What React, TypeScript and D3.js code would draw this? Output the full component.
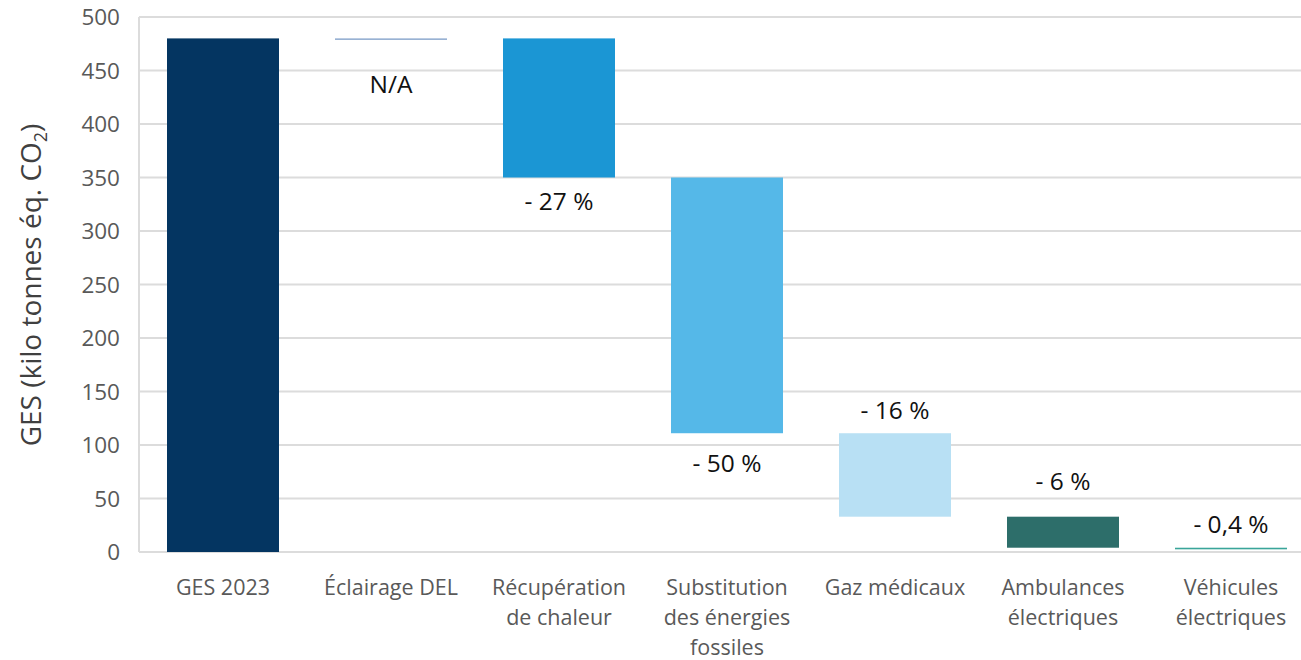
import React, { useEffect, useRef } from 'react';
import * as d3 from 'd3';

// Waterfall data (kilo tonnes éq. CO2)
const categories = [
  ['GES 2023'],
  ['Éclairage DEL'],
  ['Récupération', 'de chaleur'],
  ['Substitution', 'des énergies', 'fossiles'],
  ['Gaz médicaux'],
  ['Ambulances', 'électriques'],
  ['Véhicules', 'électriques'],
];
const barStart = [0, 480, 480, 350, 111, 33, 4];
const barEnd = [480, 480, 350, 111, 33, 4, 2.5];
const barColors = ['#043561', '#8eaacf', '#1b96d4', '#55b8e8', '#b8e0f4', '#2d6e6a', '#3aa59a'];
const deltaLabels = ['', 'N/A', '- 27 %', '- 50 %', '- 16 %', '- 6 %', '- 0,4 %'];
const labelAt = [0, 437, 328, 83, 133, 66, 26];
const yTicks = [0, 50, 100, 150, 200, 250, 300, 350, 400, 450, 500];

const W = 1301;
const H = 660;
const FONT = '"Open Sans", "Segoe UI", sans-serif';

const App = () => {
  const svgRef = useRef<SVGSVGElement>(null);

  useEffect(() => {
    const svg = d3.select(svgRef.current);
    svg.selectAll('*').remove();

    const x = d3.scaleBand<number>()
      .domain(d3.range(categories.length))
      .range([139, 1315])
      .paddingInner(1 / 3)
      .paddingOuter(1 / 6);

    const y = d3.scaleLinear().domain([0, 500]).range([552, 17]);

    // gridlines
    svg.append('g')
      .selectAll('line')
      .data(yTicks)
      .join('line')
      .attr('x1', 139)
      .attr('x2', W)
      .attr('y1', d => y(d))
      .attr('y2', d => y(d))
      .attr('stroke', '#dcdcdc')
      .attr('stroke-width', 2);

    // left axis line
    svg.append('line')
      .attr('x1', 139).attr('x2', 139)
      .attr('y1', y(500)).attr('y2', y(0))
      .attr('stroke', '#dcdcdc')
      .attr('stroke-width', 2);

    // tick labels
    svg.append('g')
      .selectAll('text')
      .data(yTicks)
      .join('text')
      .attr('x', 120)
      .attr('y', d => y(d))
      .attr('dy', '0.36em')
      .attr('text-anchor', 'end')
      .attr('font-family', FONT)
      .attr('font-size', 22.5)
      .attr('fill', '#595959')
      .text(d => d);

    // bars
    svg.append('g')
      .selectAll('rect')
      .data(categories.map((_, i) => i))
      .join('rect')
      .attr('x', i => x(i)!)
      .attr('width', x.bandwidth())
      .attr('y', i => Math.min(y(barStart[i]), y(barEnd[i])))
      .attr('height', i => Math.max(1.5, Math.abs(y(barStart[i]) - y(barEnd[i]))))
      .attr('fill', i => barColors[i]);

    // delta labels
    svg.append('g')
      .selectAll('text')
      .data(categories.map((_, i) => i).filter(i => deltaLabels[i]))
      .join('text')
      .attr('x', i => x(i)! + x.bandwidth() / 2)
      .attr('y', i => y(labelAt[i]))
      .attr('dy', '0.36em')
      .attr('text-anchor', 'middle')
      .attr('font-family', FONT)
      .attr('font-size', 24.5)
      .attr('fill', '#111')
      .text(i => deltaLabels[i]);

    // category labels
    const cat = svg.append('g')
      .selectAll('text')
      .data(categories.map((_, i) => i))
      .join('text')
      .attr('text-anchor', 'middle')
      .attr('font-family', FONT)
      .attr('font-size', 21.5)
      .attr('fill', '#595959');
    cat.each(function (i) {
      const t = d3.select(this);
      categories[i].forEach((line, k) => {
        t.append('tspan')
          .attr('x', x(i)! + x.bandwidth() / 2)
          .attr('y', 595 + k * 30)
          .text(line);
      });
    });

    // y axis title
    const title = svg.append('text')
      .attr('transform', 'translate(41,285) rotate(-90)')
      .attr('text-anchor', 'middle')
      .attr('font-family', FONT)
      .attr('font-size', 28)
      .attr('fill', '#404040');
    title.append('tspan').text('GES (kilo tonnes éq. CO');
    title.append('tspan').attr('font-size', 18).attr('dy', 6).text('2');
    title.append('tspan').attr('dy', -6).text(')');
  }, []);

  return (
    <div style={{ position: 'absolute', left: 0, top: 0 }}>
      <svg ref={svgRef} width={W} height={H} style={{ display: 'block', background: '#fff' }} />
    </div>
  );
};

export default App;
